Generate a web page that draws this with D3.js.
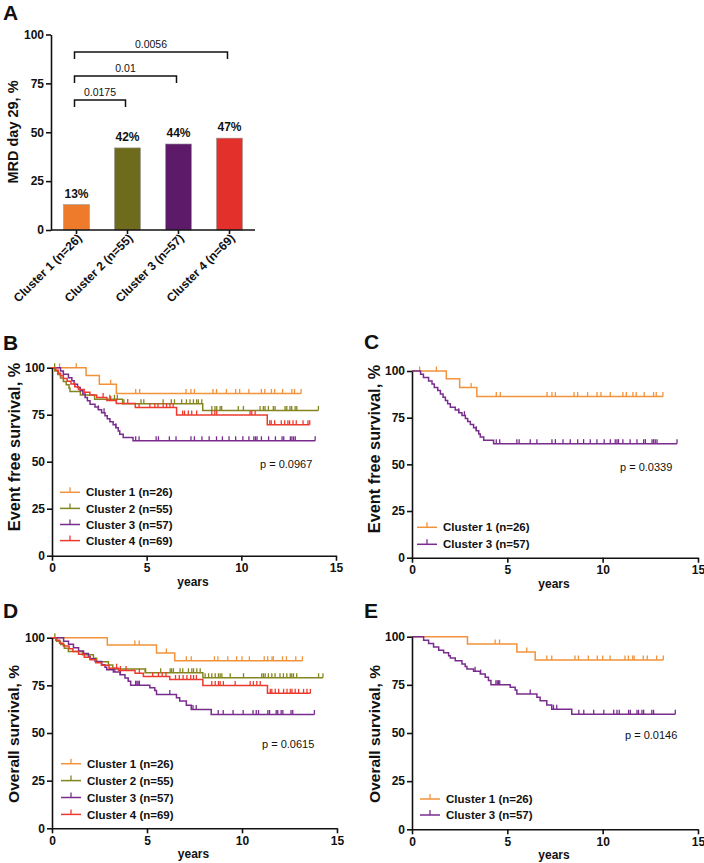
<!DOCTYPE html>
<html><head><meta charset="utf-8">
<script src="https://cdn.jsdelivr.net/npm/d3@7/dist/d3.min.js"></script>
<style>body{margin:0;background:#fff} text{font-family:"Liberation Sans",Arial,Helvetica,sans-serif}</style>
</head><body><svg id="c" width="704" height="863"></svg>
<script>
// ---------- DATA ----------
const mrdCategories = ["Cluster 1 (n=26)","Cluster 2 (n=55)","Cluster 3 (n=57)","Cluster 4 (n=69)"];
const mrdValues = [13,42,44,47];
const mrdLabels = ["13%","42%","44%","47%"];
const mrdTicks = [0,25,50,75,100];
const compPairs = [[0,1],[0,2],[0,3]];
const compP = ["0.0175","0.01","0.0056"];

const kmTicksX = [0,5,10,15];
const kmTicksY = [0,25,50,75,100];
const clusterNames = ["Cluster 1 (n=26)","Cluster 2 (n=55)","Cluster 3 (n=57)","Cluster 4 (n=69)"];

// Event free survival
const efs1Times = [1.8,2.5,3.4];
const efs1Surv  = [95.8,91.2,86.3];
const efs1Cens  = [0.4,1.28,3.1,4.42,4.63,7.08,7.34,7.52,8.5,8.69,9.21,9.7,9.91,10.4,11.06,11.24,11.59,11.76,12.18,12.67,12.81,13.16];
const efs2Times = [0.15,0.3,0.45,0.6,0.75,0.9,0.95,1.5,2.25,3.73,7.96];
const efs2Surv  = [98.2,96.4,94.5,92.7,90.9,89.1,87.3,85.5,83.2,80.8,77.3];
const efs2Cens  = [0.14,3.05,3.3,3.45,3.8,4.7,4.85,5.87,6.3,6.47,6.85,7.1,7.29,7.47,7.64,7.73,7.91,8.44,8.61,8.7,8.88,8.96,9.84,10.11,10.99,11.16,11.25,11.43,11.69,11.78,12.31,12.4,12.57,12.66,12.84,12.93,14.07];
const efs3Times = [0.45,0.6,0.87,1.05,1.17,1.35,1.49,1.63,1.75,1.87,2.01,2.27,2.45,2.62,2.8,2.92,3.06,3.23,3.37,3.5,3.58,3.76,4.28];
const efs3Surv  = [98.2,96.5,94.7,93.0,91.2,89.5,87.7,86.0,84.2,82.4,80.6,79.1,77.6,76.1,74.5,72.9,71.3,69.6,68.0,66.3,64.6,62.9,61.1];
const efs3Cens  = [2.45,2.75,3.37,4.42,4.6,5.5,5.62,6.2,6.55,7.34,7.52,7.92,8.3,8.69,9.0,9.35,9.7,10.08,10.4,10.66,10.75,10.83,11.06,11.44,11.8,12.15,12.24,12.59,12.67,12.76,12.85,13.9];
const efs4Times = [0.2,0.33,0.45,0.6,0.8,1.0,1.2,1.4,1.7,2.0,2.36,2.9,3.4,4.4,6.58,11.37];
const efs4Surv  = [98.6,97.1,95.7,94.2,92.8,91.3,89.9,88.4,87.0,85.5,84.1,82.6,81.0,78.8,74.8,69.6];
const efs4Cens  = [1.2,2.7,3.1,3.4,4.0,4.6,5.17,5.43,5.6,5.87,6.05,6.23,6.4,6.9,7.0,7.2,7.38,7.64,8.44,8.6,8.7,10.46,10.55,10.73,11.5,11.58,11.76,12.11,12.29,12.46,12.55,12.73,12.9,13.26,13.52,13.61];

// Overall survival
const os1Times = [2.91,5.5,6.46];
const os1Surv  = [96.2,92.0,87.9];
const os1Cens  = [4.36,4.59,6.02,7.07,7.33,8.55,8.73,9.25,9.72,10.0,10.39,11.17,11.35,11.58,11.65,12.13,12.34,12.83,13.18];
const os2Times = [0.25,0.45,0.65,0.86,1.6,2.18,2.35,2.97,3.2,4.9,7.94];
const os2Surv  = [98.2,96.4,94.5,92.7,91.0,89.2,87.4,85.7,83.6,81.6,79.0];
const os2Cens  = [0.15,4.93,5.72,6.22,6.3,6.39,6.74,6.88,7.18,7.36,7.45,7.62,7.8,8.06,8.24,8.41,8.59,8.76,8.85,8.94,9.38,10.08,11.04,11.13,11.22,11.39,11.57,11.74,12.0,12.18,12.36,12.54,12.62,12.71,12.88,14.03,14.26];
const os3Times = [0.61,0.87,1.13,1.4,1.66,1.92,2.01,2.27,2.62,2.79,2.88,3.23,3.58,3.84,4.01,4.14,5.15,5.41,5.5,6.55,6.72,7.07,7.33,8.38];
const os3Surv  = [98.2,96.5,94.7,93.0,91.7,90.1,88.9,87.5,85.8,84.5,83.2,82.0,80.6,78.9,77.2,75.1,73.7,72.3,70.2,68.5,66.8,64.6,62.3,59.7];
const os3Cens  = [3.31,3.6,4.4,4.47,4.53,4.6,6.2,7.42,7.59,8.75,9.01,9.53,10.06,10.58,10.75,10.87,11.36,11.45,11.8,11.88,12.06,12.15,12.58,12.67,13.81];
const os4Times = [0.2,0.4,0.6,0.9,1.1,1.4,1.7,2.0,2.3,2.6,3.0,3.5,4.37,4.81,6.2,7.94,11.34];
const os4Surv  = [98.6,97.1,95.6,94.2,92.7,91.3,89.8,88.4,86.9,85.5,84.0,82.8,81.3,79.6,78.1,74.9,70.8];
const os4Cens  = [3.4,3.6,3.9,4.6,5.3,5.6,5.8,6.0,6.5,6.7,6.9,7.1,7.3,7.45,7.6,8.41,8.59,8.76,8.85,9.02,9.64,10.43,10.6,10.78,10.96,11.49,11.57,11.75,11.93,12.19,12.37,12.54,12.63,12.8,12.98,13.24,13.42,13.6];

const barColors = ["#EE7A2B","#6E6B1C","#5C1A69","#E3302A"];
const kmColors  = ["#F2923A","#85851F","#7A2C8E","#EC3B2E"];

// ---------- DRAW ----------
const svg = d3.select("#c");
const FONT = '"Liberation Sans",Arial,Helvetica,sans-serif';

function styleAxis(g, fs) {
  g.select(".domain").attr("stroke","#111").attr("stroke-width",1.6);
  g.selectAll(".tick line").attr("stroke","#111").attr("stroke-width",1.6);
  g.selectAll(".tick text").attr("font-family",FONT).attr("font-weight","bold")
    .attr("font-size",fs).attr("fill","#111");
}

function letter(t, x, y) {
  svg.append("text").attr("x",x).attr("y",y).text(t)
    .attr("font-size",21).attr("font-weight","bold").attr("fill","#111");
}

// Panel A
(function(){
  const x = d3.scaleBand().domain(mrdCategories).range([51,255]).paddingInner(0.49).paddingOuter(0.245);
  const y = d3.scaleLinear().domain([0,100]).range([230,34.5]);
  const g = svg.append("g");
  g.selectAll("rect.bar").data(mrdValues).join("rect")
    .attr("x",(d,i)=>x(mrdCategories[i])).attr("width",x.bandwidth())
    .attr("y",d=>y(d)).attr("height",d=>y(0)-y(d))
    .attr("fill",(d,i)=>barColors[i]).attr("stroke","#9a9a9a").attr("stroke-width",0.6);
  g.selectAll("text.bl").data(mrdLabels).join("text")
    .attr("x",(d,i)=>x(mrdCategories[i])+x.bandwidth()/2)
    .attr("y",(d,i)=>y(mrdValues[i])-7).attr("text-anchor","middle")
    .attr("font-size",12).attr("font-weight","bold").attr("fill","#111").text(d=>d);
  const ya = g.append("g").attr("transform","translate(51,0)")
    .call(d3.axisLeft(y).tickValues(mrdTicks).tickSize(5).tickSizeOuter(0).tickPadding(2));
  styleAxis(ya, 12);
  const xa = g.append("g").attr("transform","translate(0,230)")
    .call(d3.axisBottom(x).tickSize(4).tickSizeOuter(0).tickFormat(""));
  styleAxis(xa, 12);
  xa.select(".domain").attr("d","M51,0H255");
  g.selectAll("text.xl").data(mrdCategories).join("text")
    .attr("transform",d=>`translate(${x(d)+x.bandwidth()/2+6},239) rotate(-45)`)
    .attr("text-anchor","end").attr("font-size",12).attr("font-weight","bold").attr("fill","#111").text(d=>d);
  compPairs.forEach((p,i)=>{
    const lv = y(66.5 + i*12.25);
    const xa0 = x(mrdCategories[p[0]])+x.bandwidth()/2-2;
    const xa1 = x(mrdCategories[p[1]])+x.bandwidth()/2-2;
    g.append("path").attr("d",`M${xa0},${lv+7}V${lv}H${xa1}V${lv+7}`)
      .attr("fill","none").attr("stroke","#111").attr("stroke-width",1.5);
    g.append("text").attr("x",(xa0+xa1)/2).attr("y",lv-4).attr("text-anchor","middle")
      .attr("font-size",10.5).attr("fill","#111").text(compP[i]);
  });
  svg.append("text").attr("transform","translate(18,132) rotate(-90)").attr("text-anchor","middle")
    .attr("font-size",14.5).attr("font-weight","bold").attr("fill","#111").text("MRD day 29, %");
  letter("A",3,20);
})();

function survAt(times, surv, t) {
  let s = 100;
  for (let i=0;i<times.length;i++) if (times[i] <= t) s = surv[i];
  return s;
}

function km(cfg) {
  const x = d3.scaleLinear().domain([0,15]).range([cfg.x0,cfg.x1]);
  const y = d3.scaleLinear().domain([0,100]).range([cfg.yb,cfg.yt]);
  const g = svg.append("g");
  const line = d3.line().x(d=>x(d[0])).y(d=>y(d[1])).curve(d3.curveStepAfter);
  cfg.series.forEach(s=>{
    const end = Math.max(d3.max(s.c), d3.max(s.t));
    const pts = [[0,100]].concat(s.t.map((t,i)=>[t,s.s[i]]));
    pts.push([end, s.s[s.s.length-1]]);
    g.append("path").attr("d",line(pts)).attr("fill","none").attr("stroke",s.col).attr("stroke-width",1.5);
    g.selectAll(null).data(s.c).join("line")
      .attr("x1",d=>x(d)).attr("x2",d=>x(d))
      .attr("y1",d=>y(survAt(s.t,s.s,d))).attr("y2",d=>y(survAt(s.t,s.s,d))-4.5)
      .attr("stroke",s.col).attr("stroke-width",1.3);
  });
  const ya = g.append("g").attr("transform",`translate(${cfg.x0},0)`)
    .call(d3.axisLeft(y).tickValues(kmTicksY).tickSize(5).tickSizeOuter(0).tickPadding(2));
  styleAxis(ya,12);
  const xa = g.append("g").attr("transform",`translate(0,${cfg.yb})`)
    .call(d3.axisBottom(x).tickValues(kmTicksX).tickSize(5).tickSizeOuter(0).tickPadding(3));
  styleAxis(xa,12);
  g.append("text").attr("x",(cfg.x0+cfg.x1)/2 - 1).attr("y",cfg.yb+30).attr("text-anchor","middle")
    .attr("font-size",12).attr("font-weight","bold").attr("fill","#111").text("years");
  g.append("text").attr("transform",`translate(${cfg.tx},${cfg.ty}) rotate(-90)`).attr("text-anchor","middle")
    .attr("font-size",cfg.tfs).attr("font-weight","bold").attr("fill","#111").text(cfg.title);
  g.append("text").attr("x",cfg.px).attr("y",cfg.py).attr("dy","0.35em")
    .attr("font-size",11).attr("fill","#111").text(cfg.p);
  cfg.series.forEach((s,i)=>{
    const ly = cfg.ly + i*cfg.ldy;
    g.append("line").attr("x1",cfg.lx).attr("x2",cfg.lx+20).attr("y1",ly).attr("y2",ly)
      .attr("stroke",s.col).attr("stroke-width",1.5);
    g.append("line").attr("x1",cfg.lx+10).attr("x2",cfg.lx+10).attr("y1",ly).attr("y2",ly-5)
      .attr("stroke",s.col).attr("stroke-width",1.3);
    g.append("text").attr("x",cfg.lx+26).attr("y",ly).attr("dy","0.36em")
      .attr("font-size",11.5).attr("font-weight","bold").attr("fill","#111").text(s.name);
  });
  letter(cfg.letter, cfg.lX, cfg.lY);
}

const efs = [
  {t:efs1Times,s:efs1Surv,c:efs1Cens,col:kmColors[0],name:clusterNames[0]},
  {t:efs2Times,s:efs2Surv,c:efs2Cens,col:kmColors[1],name:clusterNames[1]},
  {t:efs3Times,s:efs3Surv,c:efs3Cens,col:kmColors[2],name:clusterNames[2]},
  {t:efs4Times,s:efs4Surv,c:efs4Cens,col:kmColors[3],name:clusterNames[3]}
];
const os = [
  {t:os1Times,s:os1Surv,c:os1Cens,col:kmColors[0],name:clusterNames[0]},
  {t:os2Times,s:os2Surv,c:os2Cens,col:kmColors[1],name:clusterNames[1]},
  {t:os3Times,s:os3Surv,c:os3Cens,col:kmColors[2],name:clusterNames[2]},
  {t:os4Times,s:os4Surv,c:os4Cens,col:kmColors[3],name:clusterNames[3]}
];

km({x0:52,x1:336,yt:367.7,yb:555.7,series:efs,title:"Event free survival, %",tx:20,ty:447,tfs:16.3,
    p:"p = 0.0967",px:260,py:464,lx:60,ly:492.3,ldy:16.1,letter:"B",lX:3,lY:350});
km({x0:412,x1:698,yt:371,yb:557.7,series:[efs[0],efs[2]],title:"Event free survival, %",tx:380,ty:449,tfs:16.3,
    p:"p = 0.0339",px:620,py:466.7,lx:417,ly:527.3,ldy:17,letter:"C",lX:364,lY:349});
km({x0:52,x1:337,yt:637.7,yb:828.3,series:os,title:"Overall survival, %",tx:19,ty:734,tfs:15.5,
    p:"p = 0.0615",px:262,py:744,lx:61,ly:763.7,ldy:16.9,letter:"D",lX:3,lY:618});
km({x0:412,x1:698,yt:636.7,yb:829.3,series:[os[0],os[2]],title:"Overall survival, %",tx:380,ty:734,tfs:15.5,
    p:"p = 0.0146",px:625,py:735,lx:420,ly:799,ldy:16,letter:"E",lX:364,lY:618});
</script></body></html>
